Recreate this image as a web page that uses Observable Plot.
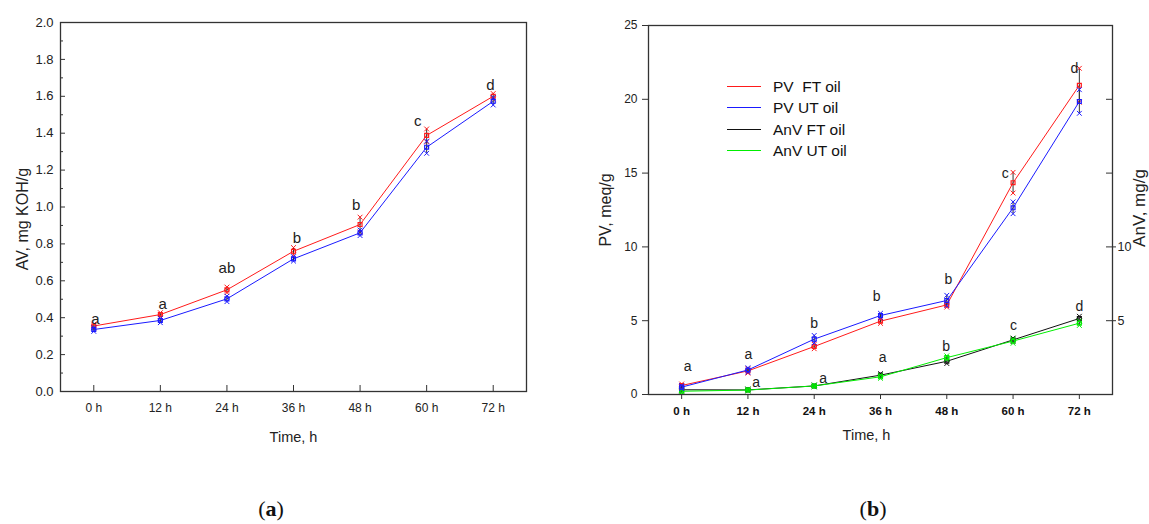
<!DOCTYPE html>
<html>
<head>
<meta charset="utf-8">
<script src="https://cdn.jsdelivr.net/npm/d3@7"></script>
<script src="https://cdn.jsdelivr.net/npm/@observablehq/plot@0.6"></script>
<style>
  html, body { margin: 0; padding: 0; background: #fff; }
  body { font-family: "Liberation Sans", Arial, sans-serif; color: #222; }
  #wrap { position: relative; width: 1149px; height: 524px; overflow: hidden; background: #fff; }
  .panel { position: absolute; top: 0; }
  .cap { position: absolute; top: 496px; font-family: "Liberation Serif", "DejaVu Serif", serif; font-size: 22px; color: #111; transform: translateX(-50%); }
  .legend { position: absolute; left: 727px; top: 76px; font-size: 15.5px; color: #111; }
  .legend .row { position: relative; height: 21.3px; line-height: 21.3px; white-space: pre; }
  .legend .sw { position: absolute; left: 0; top: 10px; width: 34px; height: 0; border-top: 1.5px solid; }
  .legend .lb { position: absolute; left: 46px; top: 0; }
</style>
</head>
<body>
<div id="wrap">
  <div id="pa" class="panel" style="left:0px"></div>
  <div id="pb" class="panel" style="left:570px"></div>
  <div id="legend" class="legend"></div>
  <div class="cap" style="left:271px">(<b>a</b>)</div>
  <div class="cap" style="left:873px">(<b>b</b>)</div>
</div>
<script>
// ---------- data ----------
const hours = [0, 12, 24, 36, 48, 60, 72];

// panel (a): acid value, mg KOH/g
const avFT    = [0.355, 0.417, 0.551, 0.760, 0.905, 1.388, 1.600];
const avFTErr = [0.010, 0.010, 0.015, 0.020, 0.040, 0.035, 0.015];
const avUT    = [0.336, 0.385, 0.502, 0.719, 0.860, 1.324, 1.573];
const avUTErr = [0.010, 0.012, 0.015, 0.012, 0.015, 0.033, 0.020];
const avLetters     = ["a", "a", "ab", "b", "b", "c", "d"];
const avLetterAt    = [0.394, 0.475, 0.668, 0.833, 1.012, 1.463, 1.662];
const avLetterHour  = [0.3, 12.4, 24, 36.6, 47.3, 58.4, 71.5];
const avTicks = [0, 0.2, 0.4, 0.6, 0.8, 1.0, 1.2, 1.4, 1.6, 1.8, 2.0];
const avMinorTicks = [0.1, 0.3, 0.5, 0.7, 0.9, 1.1, 1.3, 1.5, 1.7, 1.9];

// panel (b): peroxide value (meq/g) and anisidine value (mg/g)
const pvFT    = [0.61, 1.60, 3.25, 4.97, 6.07, 14.35, 20.95];
const pvFTErr = [0.10, 0.15, 0.15, 0.15, 0.15, 0.70, 1.15];
const pvUT    = [0.50, 1.66, 3.75, 5.35, 6.37, 12.65, 19.85];
const pvUTErr = [0.10, 0.15, 0.25, 0.15, 0.35, 0.40, 0.80];
const anvFT    = [0.32, 0.31, 0.58, 1.31, 2.25, 3.70, 5.15];
const anvFTErr = [0.08, 0.06, 0.06, 0.10, 0.15, 0.12, 0.15];
const anvUT    = [0.22, 0.30, 0.58, 1.20, 2.50, 3.62, 4.83];
const anvUTErr = [0.08, 0.06, 0.06, 0.10, 0.12, 0.15, 0.15];
const pvLetters     = ["a", "a", "b", "b", "b", "c", "d"];
const pvLetterAt    = [1.90, 2.69, 4.79, 6.66, 7.77, 14.95, 22.10];
const pvLetterHour  = [1.1, 12.1, 24, 35.3, 48.3, 58.6, 71.1];
const anvLetters    = ["", "a", "a", "a", "b", "c", "d"];
const anvLetterAt   = [0, 0.81, 1.08, 2.49, 3.27, 4.65, 5.98];
const anvLetterHour = [0, 13.5, 25.6, 36.4, 47.9, 60.1, 72];
const pvTicks  = [0, 5, 10, 15, 20, 25];
const anvTicks = [5, 10];
const anvInnerTicks = [5, 10, 15, 20];

const legendNames = ["PV  FT oil", "PV UT oil", "AnV FT oil", "AnV UT oil"];

// ---------- styles ----------
const C = { red: "#ff1a1a", blue: "#1a1aff", black: "#111111", green: "#00ee00" };
const FONT = "'Liberation Sans', Arial, Helvetica, sans-serif";
const hourFmt = d => d + " h";
const centered = { textAnchor: "middle", lineAnchor: "middle" };

function rows(vals, errs) {
  return hours.map((h, i) => ({ h, v: vals[i], e: errs[i] }));
}

function seriesMarks(data, color) {
  return [
    Plot.line(data, { x: "h", y: "v", stroke: color, strokeWidth: 1 }),
    Plot.ruleX(data, { x: "h", y1: d => d.v - d.e, y2: d => d.v + d.e, stroke: "#333", strokeWidth: 1 }),
    Plot.dot(data, { x: "h", y: d => d.v + d.e, symbol: "times", r: 2.3, stroke: color, strokeWidth: 1 }),
    Plot.dot(data, { x: "h", y: d => d.v - d.e, symbol: "times", r: 2.3, stroke: color, strokeWidth: 1 }),
    Plot.dot(data, { x: "h", y: "v", symbol: "square", r: 2.2, stroke: color, fill: "none", strokeWidth: 1.2 })
  ];
}

function letterMarks(letters, at, hrs, size) {
  return Plot.text(letters, {
    x: (d, i) => hrs[i], y: (d, i) => at[i], text: d => d,
    fontSize: size, fill: "#222", ...centered
  });
}

// ---------- panel (a) ----------
{
  const W = 560, H = 460, mL = 60, mR = 34, mT = 22, mB = 69;
  const fw = W - mL - mR, fh = H - mT - mB;
  const chart = Plot.plot({
    width: W, height: H, marginLeft: mL, marginRight: mR, marginTop: mT, marginBottom: mB,
    style: { fontFamily: FONT, background: "transparent", color: "#222", overflow: "visible" },
    x: { type: "linear", domain: [-6, 78] },
    y: { domain: [0, 2] },
    marks: [
      Plot.axisY(avTicks, { tickSize: 0, tickPadding: 7, tickFormat: d3.format(".1f"), fontSize: 13, label: null, fill: "#222" }),
      Plot.tickY(avTicks, { y: d => d, insetRight: fw - 5, stroke: "#333" }),
      Plot.tickY(avMinorTicks, { y: d => d, insetRight: fw - 3, stroke: "#333" }),
      Plot.axisX(hours, { tickSize: 0, tickPadding: 12, tickFormat: hourFmt, fontSize: 12, label: null, fill: "#222" }),
      Plot.tickX(hours, { x: d => d, insetTop: fh - 6, stroke: "#333" }),
      ...seriesMarks(rows(avFT, avFTErr), C.red),
      ...seriesMarks(rows(avUT, avUTErr), C.blue),
      letterMarks(avLetters, avLetterAt, avLetterHour, 15),
      Plot.text(["Time, h"], { frameAnchor: "bottom", dy: 46, fontSize: 14.5, fill: "#222", ...centered }),
      Plot.text(["AV, mg KOH/g"], { frameAnchor: "left", dx: -38, dy: 12, rotate: -90, fontSize: 16, fill: "#222", ...centered }),
      Plot.frame({ stroke: "#333", strokeWidth: 1.3 })
    ]
  });
  document.getElementById("pa").appendChild(chart);
}

// ---------- panel (b) ----------
{
  const W = 579, H = 460, mL = 78, mR = 37, mT = 25, mB = 66;
  const fw = W - mL - mR, fh = H - mT - mB;
  const chart = Plot.plot({
    width: W, height: H, marginLeft: mL, marginRight: mR, marginTop: mT, marginBottom: mB,
    style: { fontFamily: FONT, background: "transparent", color: "#222", overflow: "visible" },
    x: { type: "linear", domain: [-6, 78] },
    y: { domain: [0, 25] },
    marks: [
      Plot.axisY(pvTicks, { anchor: "left", tickSize: 6, tickPadding: 5, fontSize: 12, label: null, fill: "#222", stroke: "#333" }),
      Plot.axisY(anvTicks, { anchor: "right", tickSize: 3, tickPadding: 2, fontSize: 12.5, label: null, fill: "#222", stroke: "#333" }),
      Plot.tickY(anvInnerTicks, { y: d => d, insetLeft: fw - 6, stroke: "#333" }),
      Plot.axisX(hours, { tickSize: 5, tickPadding: 7, tickFormat: hourFmt, fontSize: 11.5, fontWeight: "bold", label: null, fill: "#111", stroke: "#333" }),
      ...seriesMarks(rows(anvFT, anvFTErr), C.black),
      ...seriesMarks(rows(anvUT, anvUTErr), C.green),
      ...seriesMarks(rows(pvFT, pvFTErr), C.red),
      ...seriesMarks(rows(pvUT, pvUTErr), C.blue),
      letterMarks(pvLetters, pvLetterAt, pvLetterHour, 14),
      letterMarks(anvLetters, anvLetterAt, anvLetterHour, 14),
      Plot.text(["Time, h"], { frameAnchor: "bottom", dx: -14, dy: 41, fontSize: 14.5, fill: "#222", ...centered }),
      Plot.text(["PV, meq/g"], { frameAnchor: "left", dx: -43, dy: 0, rotate: -90, fontSize: 16, fill: "#222", ...centered }),
      Plot.text(["AnV, mg/g"], { frameAnchor: "right", dx: 27, dy: -2, rotate: -90, fontSize: 17, fill: "#222", ...centered }),
      Plot.frame({ stroke: "#333", strokeWidth: 1.3 })
    ]
  });
  document.getElementById("pb").appendChild(chart);
}

// ---------- legend for panel (b) ----------
{
  const colors = [C.red, C.blue, C.black, C.green];
  const lg = document.getElementById("legend");
  legendNames.forEach((name, i) => {
    const row = document.createElement("div");
    row.className = "row";
    const sw = document.createElement("div");
    sw.className = "sw";
    sw.style.borderTopColor = colors[i];
    const lb = document.createElement("span");
    lb.className = "lb";
    lb.textContent = name;
    row.appendChild(sw);
    row.appendChild(lb);
    lg.appendChild(row);
  });
}
</script>
</body>
</html>
